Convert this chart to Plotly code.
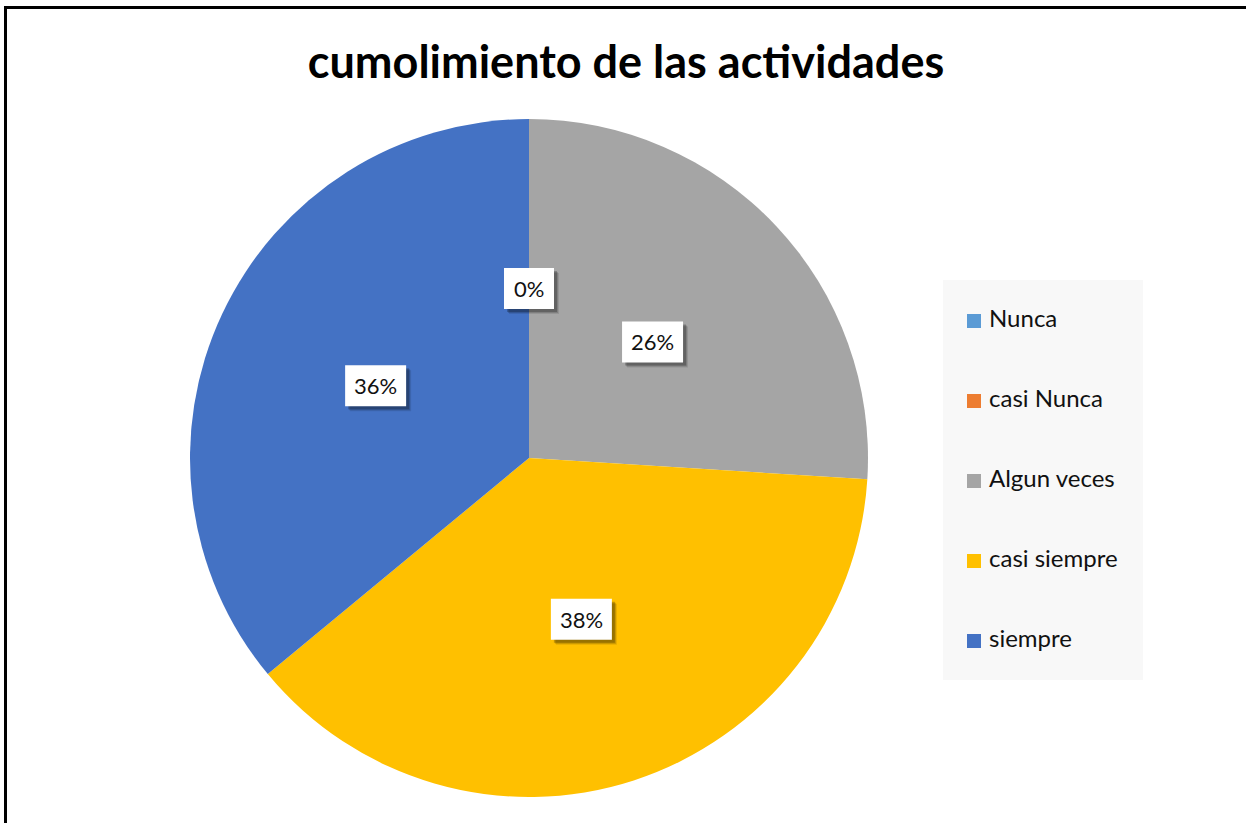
import math
import plotly.graph_objects as go

# ---- data ----
categories = ["Nunca", "casi Nunca", "Algun veces", "casi siempre", "siempre"]
values = [0, 0, 13, 19, 18]
colors = ["#5B9BD5", "#ED7D31", "#A5A5A5", "#FFC000", "#4472C4"]
title_text = "cumolimiento de las actividades"

# ---- layout constants (pixels) ----
W, H = 1246, 823
CX, CY, R = 529, 458, 339
FONT = "Lato"


def px_x(x):
    return x / W


def px_y(y):
    return 1 - y / H


fig = go.Figure()

fig.add_trace(go.Pie(
    labels=categories,
    values=values,
    marker=dict(colors=colors, line=dict(width=0)),
    sort=False,
    direction="clockwise",
    rotation=0,
    textinfo="none",
    hoverinfo="label+percent",
    showlegend=False,
    domain=dict(x=[px_x(CX - R), px_x(CX + R)], y=[px_y(CY + R), px_y(CY - R)]),
))

# legend drawn as scatter traces in their own axes
fig.add_trace(go.Scatter(
    x=[0.155] * len(categories),
    y=list(range(len(categories))),
    mode="markers",
    marker=dict(symbol="square", size=14, color=colors),
    hoverinfo="skip",
    showlegend=False,
    xaxis="x2",
    yaxis="y2",
))
fig.add_trace(go.Scatter(
    x=[0.23] * len(categories),
    y=list(range(len(categories))),
    mode="text",
    text=categories,
    textposition="middle right",
    textfont=dict(family=FONT, size=24, color="#111111"),
    hoverinfo="skip",
    showlegend=False,
    xaxis="x2",
    yaxis="y2",
))

# data labels computed from cumulative shares
total = sum(values)
annotations = []
shapes = []
cum = 0.0
seen = set()
for cat, v in zip(categories, values):
    frac = v / total
    mid = (cum + frac / 2) * 360
    cum += frac
    pct = f"{round(frac * 100)}%"
    lx = CX + 0.5 * R * math.sin(math.radians(mid))
    ly = CY - 0.5 * R * math.cos(math.radians(mid))
    key = (round(lx), round(ly))
    if key in seen:
        continue
    seen.add(key)
    bw = 61 if len(pct) >= 3 else 50
    bh = 41
    # soft shadow (bottom-right)
    for off, alpha in [(5, 0.10), (4, 0.15), (3, 0.22)]:
        shapes.append(dict(
            type="rect", xref="paper", yref="paper", xsizemode="pixel", ysizemode="pixel",
            xanchor=px_x(lx), yanchor=px_y(ly),
            x0=-bw / 2 + off, x1=bw / 2 + off, y0=-bh / 2 - off, y1=bh / 2 - off,
            fillcolor=f"rgba(0,0,0,{alpha})", line=dict(width=0), layer="above",
        ))
    shapes.append(dict(
        type="rect", xref="paper", yref="paper", xsizemode="pixel", ysizemode="pixel",
        xanchor=px_x(lx), yanchor=px_y(ly),
        x0=-bw / 2, x1=bw / 2, y0=-bh / 2, y1=bh / 2,
        fillcolor="white", line=dict(width=0), layer="above",
    ))
    annotations.append(dict(
        x=px_x(lx), y=px_y(ly), xref="paper", yref="paper", showarrow=False,
        xanchor="center", yanchor="middle",
        text=pct, font=dict(family=FONT, size=22, color="#111111"),
    ))

shapes += [
    dict(type="line", xref="paper", yref="paper", x0=px_x(4), x1=1, y0=px_y(7.5), y1=px_y(7.5),
         line=dict(color="black", width=3)),
    dict(type="line", xref="paper", yref="paper", x0=px_x(5.5), x1=px_x(5.5), y0=px_y(6), y1=0,
         line=dict(color="black", width=3)),
]

fig.update_layout(
    width=W, height=H,
    margin=dict(l=0, r=0, t=0, b=0),
    paper_bgcolor="white",
    plot_bgcolor="#F8F8F8",
    title=dict(text=f"<b>{title_text}</b>", x=px_x(626), y=px_y(62), xanchor="center", yanchor="middle",
               font=dict(family=FONT, size=45, color="black")),
    xaxis2=dict(domain=[px_x(943), px_x(1143)], range=[0, 1], visible=False, fixedrange=True),
    yaxis2=dict(domain=[px_y(680), px_y(280)], range=[4.4875, -0.5125], visible=False, fixedrange=True,
                anchor="x2"),
    annotations=annotations,
    shapes=shapes,
)

fig.write_html("out.html", config={"displayModeBar": False},
               post_script="document.body.style.margin='0';")
